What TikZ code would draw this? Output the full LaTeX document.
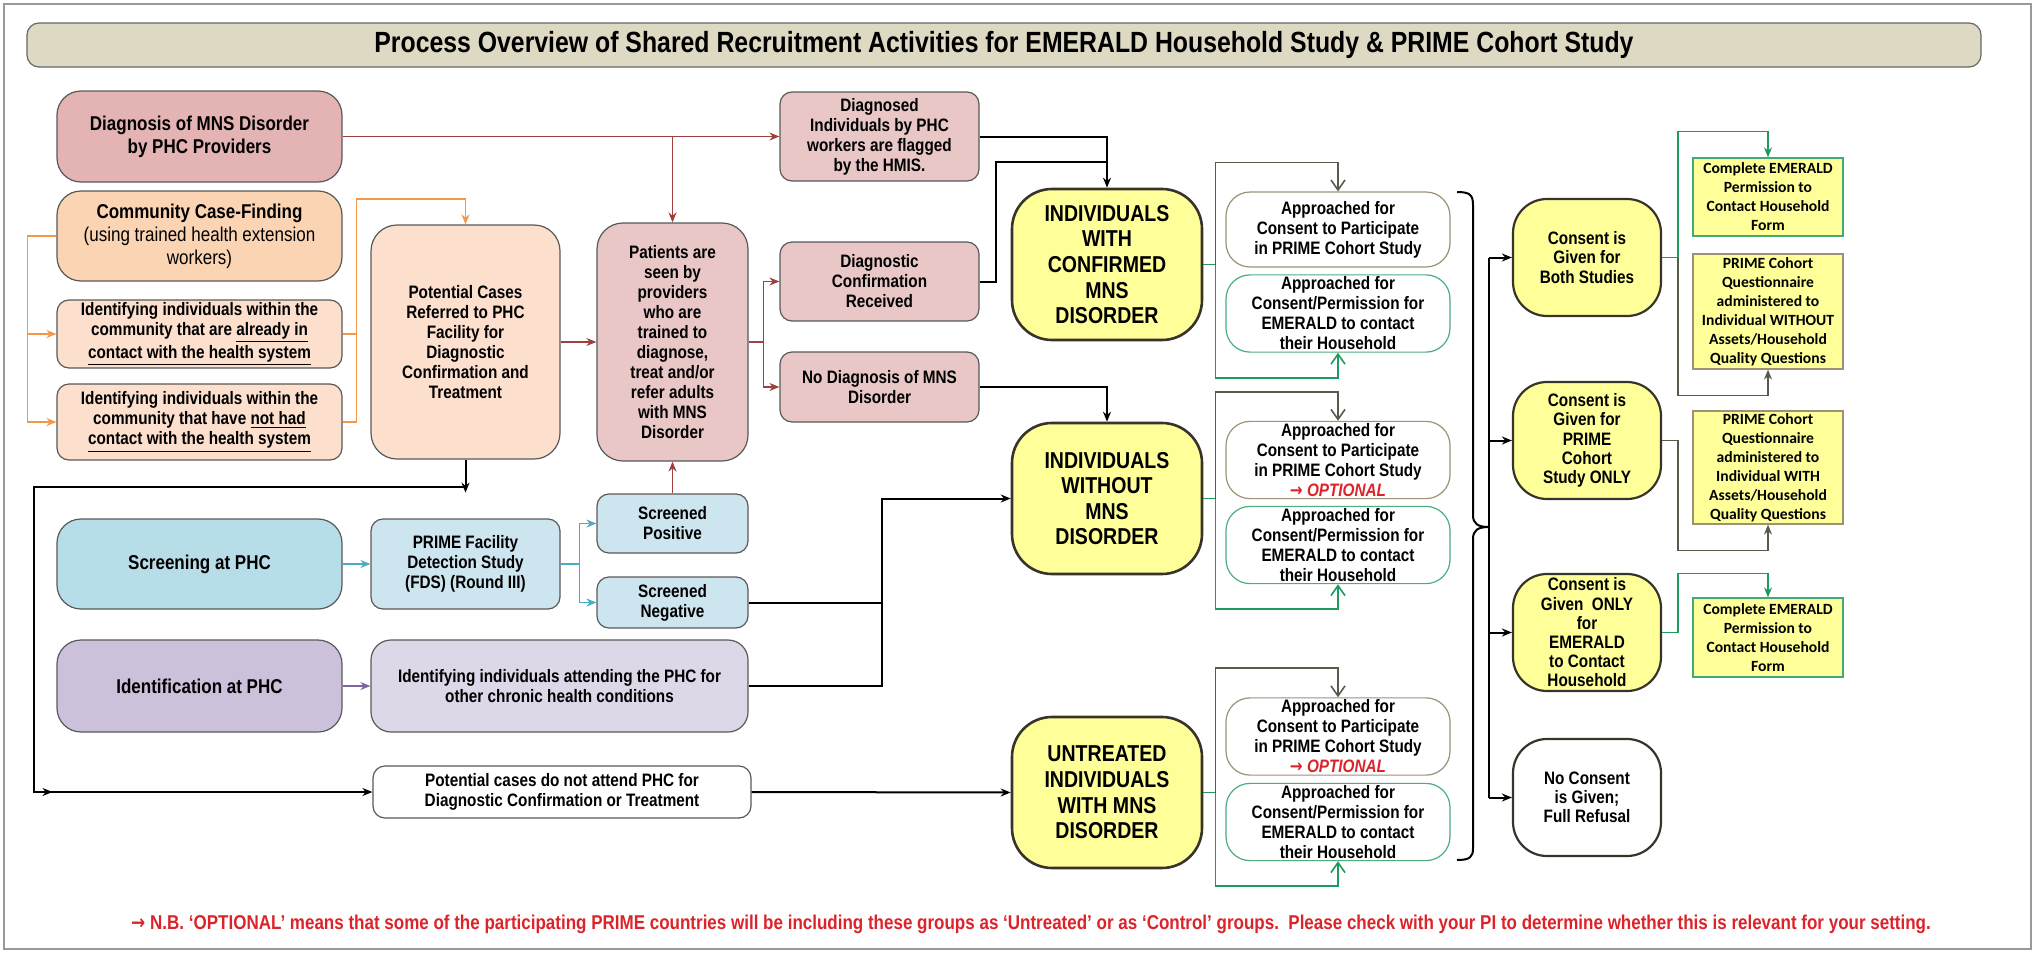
\documentclass[tikz,border=0pt]{standalone}
\usepackage{fontspec}
\setmainfont[FakeStretch=0.85]{Liberation Sans}
\newfontfamily\calfont{Carlito}
\newfontfamily\arrowfont[FakeStretch=0.85]{DejaVu Sans}
\usetikzlibrary{arrows.meta,calc}

\definecolor{titlefill}{HTML}{DDD9C3}
\definecolor{diagfill}{HTML}{E3B4B3}
\definecolor{pinkfill}{HTML}{E8C7C6}
\definecolor{peachfill}{HTML}{FBD4B4}
\definecolor{lpeachfill}{HTML}{FCDFCD}
\definecolor{bluefill}{HTML}{B7DDE8}
\definecolor{lbluefill}{HTML}{CCE5EE}
\definecolor{purplefill}{HTML}{CCC1DA}
\definecolor{lpurplefill}{HTML}{DDD7E8}
\definecolor{yellowfill}{HTML}{FFFF99}
\definecolor{orangeline}{HTML}{F79646}
\definecolor{redline}{HTML}{A0403D}
\definecolor{blueline}{HTML}{4BACC6}
\definecolor{purpleline}{HTML}{8064A2}
\definecolor{greenline}{HTML}{1F9A5F}
\definecolor{grayline}{HTML}{5A5A4C}
\definecolor{olivebd}{HTML}{9C9377}
\definecolor{notered}{HTML}{DC2329}

\newcommand{\optarrow}{{\arrowfont\bfseries →}}

\tikzset{
  base/.style={draw=black!65, line width=0.6pt, align=center, inner sep=1pt,
    font=\fontsize{9}{10}\selectfont\bfseries},
  bigbox/.style={base, rounded corners=12pt, minimum width=142.5pt,
    font=\fontsize{10}{11.5}\selectfont\bfseries},
  smallbox/.style={base, rounded corners=6pt},
  tallbox/.style={base, rounded corners=13pt, minimum width=94.5pt},
  yellowbig/.style={base, draw=black!80!olive, line width=1.3pt, fill=yellowfill,
    rounded corners=20pt, minimum width=95pt, minimum height=75.5pt,
    font=\fontsize{11.5}{12.8}\selectfont\bfseries},
  approach/.style={base, fill=white, rounded corners=12pt, minimum width=112pt},
  consentbox/.style={base, draw=black!80!olive, line width=1.1pt, rounded corners=17pt,
    minimum width=74pt, minimum height=58.5pt, font=\fontsize{9}{9.6}\selectfont\bfseries},
  formbox/.style={base, fill=yellowfill, minimum width=75pt, inner sep=0pt,
    font=\fontsize{7.8}{9.5}\selectfont\calfont\bfseries},
  blk/.style={draw=black, line width=1pt},
  conn/.style={line width=0.8pt}
}

\begin{document}
\begin{tikzpicture}[x=0.5pt,y=-0.5pt, >={Stealth[length=5pt,width=4pt]}]
    \useasboundingbox (0,0) rectangle (2035,953);
    % Cadre et titre
    \draw[black!40, line width=0.8pt] (4,4) rectangle (2031,949);
    \node[base, fill=titlefill, draw=black!60, rounded corners=6pt, minimum width=977pt,
      minimum height=22pt, font=\fontsize{14.6}{16}\selectfont\bfseries] (title) at (1004,45)
      {Process Overview of Shared Recruitment Activities for EMERALD Household Study \& PRIME Cohort Study};

    % Colonne de gauche
    \node[bigbox, fill=diagfill, minimum height=45.5pt] (diag) at (199.5,136.5)
      {Diagnosis of MNS Disorder\\by PHC Providers};
    \node[bigbox, fill=peachfill, minimum height=45pt] (community) at (199.5,236)
      {Community Case-Finding\\{\mdseries(using trained health extension}\\{\mdseries workers)}};
    \node[smallbox, fill=lpeachfill, minimum width=142.5pt, minimum height=34pt] (already) at (199.5,334)
      {Identifying individuals within the\\community that are \underline{already in}\\\underline{contact with the health system}};
    \node[smallbox, fill=lpeachfill, minimum width=142.5pt, minimum height=38pt] (nothad) at (199.5,422)
      {Identifying individuals within the\\community that have \underline{not had}\\\underline{contact with the health system}};
    \node[bigbox, fill=bluefill, minimum height=45pt] (screening) at (199.5,564) {Screening at PHC};
    \node[bigbox, fill=purplefill, minimum height=46pt] (identification) at (199.5,686) {Identification at PHC};

    % Deuxieme colonne
    \node[tallbox, fill=lpeachfill, minimum height=117pt] (potential) at (465.5,342)
      {Potential Cases\\Referred to PHC\\Facility for\\Diagnostic\\Confirmation and\\Treatment};
    \node[tallbox, fill=pinkfill, minimum width=75.5pt, minimum height=119pt] (patients) at (672.5,342)
      {Patients are\\seen by\\providers\\who are\\trained to\\diagnose,\\treat and/or\\refer adults\\with MNS\\Disorder};
    \node[smallbox, fill=lbluefill, minimum width=94.5pt, minimum height=45pt] (fds) at (465.5,564)
      {PRIME Facility\\Detection Study\\(FDS) (Round III)};
    \node[smallbox, fill=lbluefill, minimum width=75.5pt, minimum height=29.5pt] (positive) at (672.5,523.5)
      {Screened\\Positive};
    \node[smallbox, fill=lbluefill, minimum width=75.5pt, minimum height=25.5pt] (negative) at (672.5,602.5)
      {Screened\\Negative};
    \node[smallbox, fill=lpurplefill, rounded corners=10pt, minimum width=188.5pt, minimum height=46pt] (attending) at (559.5,686)
      {Identifying individuals attending the PHC for\\other chronic health conditions};
    \node[smallbox, fill=white, minimum width=189pt, minimum height=26pt] (notattend) at (562,792)
      {Potential cases do not attend PHC for\\Diagnostic Confirmation or Treatment};

    % Diagnostic
    \node[smallbox, fill=pinkfill, minimum width=99.5pt, minimum height=44.5pt] (diagnosed) at (879.5,136.5)
      {Diagnosed\\Individuals by PHC\\workers are flagged\\by the HMIS.};
    \node[smallbox, fill=pinkfill, minimum width=99.5pt, minimum height=39.5pt] (confirmation) at (879.5,281.5)
      {Diagnostic\\Confirmation\\Received};
    \node[smallbox, fill=pinkfill, minimum width=99.5pt, minimum height=35pt] (nodiag) at (879.5,387)
      {No Diagnosis of MNS\\Disorder};

    % Groupes
    \node[yellowbig] (confirmed) at (1107,264.5) {INDIVIDUALS\\WITH\\CONFIRMED\\MNS\\DISORDER};
    \node[yellowbig] (without) at (1107,498.5) {INDIVIDUALS\\WITHOUT\\MNS\\DISORDER};
    \node[yellowbig] (untreated) at (1107,792.5) {UNTREATED\\INDIVIDUALS\\WITH MNS\\DISORDER};

    % Approches
    \node[approach, draw=olivebd, minimum height=37.5pt] (a1) at (1338,229.5)
      {Approached for\\Consent to Participate\\in PRIME Cohort Study};
    \node[approach, draw=greenline!80, minimum height=38.5pt] (b1) at (1338,313.5)
      {Approached for\\Consent/Permission for\\EMERALD to contact\\their Household};
    \node[approach, draw=olivebd, minimum height=37pt] (a2) at (1338,460)
      {Approached for\\Consent to Participate\\in PRIME Cohort Study\\{\color{notered}\optarrow\ \itshape OPTIONAL}};
    \node[approach, draw=greenline!80, minimum height=38pt] (b2) at (1338,545)
      {Approached for\\Consent/Permission for\\EMERALD to contact\\their Household};
    \node[approach, draw=olivebd, minimum height=38.5pt] (a3) at (1338,736.5)
      {Approached for\\Consent to Participate\\in PRIME Cohort Study\\{\color{notered}\optarrow\ \itshape OPTIONAL}};
    \node[approach, draw=greenline!80, minimum height=38pt] (b3) at (1338,822)
      {Approached for\\Consent/Permission for\\EMERALD to contact\\their Household};

    % Consentement
    \node[consentbox, fill=yellowfill] (both) at (1587,257.5) {Consent is\\Given for\\Both Studies};
    \node[consentbox, fill=yellowfill] (prime) at (1587,440.5) {Consent is\\Given for\\PRIME\\Cohort\\Study ONLY};
    \node[consentbox, fill=yellowfill] (emerald) at (1587,632.5)
      {Consent is\\Given\ \ ONLY\\for\\EMERALD\\to Contact\\Household};
    \node[consentbox, fill=white] (noconsent) at (1587,797.5) {No Consent\\is Given;\\Full Refusal};

    % Formulaires
    \node[formbox, draw=greenline!85, minimum height=39pt] (form1) at (1768,197)
      {Complete EMERALD\\Permission to\\Contact Household\\Form};
    \node[formbox, draw=olivebd, minimum height=57.5pt] (qwithout) at (1768,311.5)
      {PRIME Cohort\\Questionnaire\\administered to\\Individual WITHOUT\\Assets/Household\\Quality Questions};
    \node[formbox, draw=olivebd, minimum height=56.5pt] (qwith) at (1768,467.5)
      {PRIME Cohort\\Questionnaire\\administered to\\Individual WITH\\Assets/Household\\Quality Questions};
    \node[formbox, draw=greenline!85, minimum height=39.5pt] (form2) at (1768,637.5)
      {Complete EMERALD\\Permission to\\Contact Household\\Form};

    % Fleches orange
    \draw[conn, orangeline, ->] (community.west) -- ++(-29,0) |- (already.west);
    \draw[conn, orangeline, ->] (community.west) -- ++(-29,0) |- (nothad.west);
    \draw[conn, orangeline] (already.east) -- ++(14,0);
    \draw[conn, orangeline, ->] (nothad.east) -- ++(14,0) -- ++(0,-223) -| (potential.north);

    % Fleches rouges
    \draw[conn, redline, ->] (diag.east) -- (diagnosed.west);
    \draw[conn, redline, ->] (diag.east -| patients.north) -- (patients.north);
    \draw[conn, redline, ->] (potential.east) -- (patients.west);
    \draw[conn, redline] (patients.east) -- ++(15,0) coordinate (rsplit);
    \draw[conn, redline, ->] (rsplit) |- (confirmation.west);
    \draw[conn, redline, ->] (rsplit) |- (nodiag.west);
    \draw[conn, redline, ->] (positive.north) -- (patients.south);

    % Fleches bleues et violette
    \draw[conn, blueline, ->] (screening.east) -- (fds.west);
    \draw[conn, blueline] (fds.east) -- ++(19,0) coordinate (bsplit);
    \draw[conn, blueline, ->] (bsplit) |- (positive.west);
    \draw[conn, blueline, ->] (bsplit) |- (negative.west);
    \draw[conn, purpleline, ->] (identification.east) -- (attending.west);

    % Fleches noires
    \draw[blk, ->] (diagnosed.east) -| (confirmed.north);
    \draw[blk] (confirmation.east) -- ++(16,0) |- ($(confirmed.north)+(0,-26)$);
    \draw[blk, ->] (nodiag.east) -| (without.north);
    \draw[blk, ->] (negative.east) -- ++(133,0) coordinate (nsplit) |- (without.west);
    \draw[blk] (attending.east) -| (nsplit);
    \draw[blk, ->] (notattend.east) -- (untreated.west);
    \draw[blk, ->] (potential.south) -- ++(0,33);
    \coordinate (lowturn) at (33.5,792);
    \draw[blk, ->] ($(potential.south)+(0,27)$) -| (lowturn) -- (notattend.west);
    \draw[blk, ->] (lowturn) -- ++(19,0);

    % Vers les approches
    \foreach \g/\a/\b in {confirmed/a1/b1, without/a2/b2, untreated/a3/b3} {
        \draw[conn, greenline] (\g.east) -- ++(12,0) coordinate (gj);
        \draw[conn, grayline, -{Straight Barb[length=5pt,width=7pt]}] (gj) |- ($(\a.north)+(0,-29)$) -- (\a.north);
        \draw[conn, greenline, -{Straight Barb[length=5pt,width=7pt]}] (gj) |- ($(\b.south)+(0,25)$) -- (\b.south);
    }

    % Accolade
    \draw[blk] (1457,192) .. controls (1470,192) and (1473,195) .. (1473,205) -- (1473,515)
      .. controls (1473,524) and (1478,527) .. (1489,527)
      .. controls (1478,527) and (1473,530) .. (1473,539) -- (1473,848)
      .. controls (1473,857) and (1470,860) .. (1457,860);
    \coordinate (csplit) at (1489,527);
    \draw[blk] (both.west -| csplit) -- (noconsent.west -| csplit);
    \foreach \c in {both, prime, emerald, noconsent} {
        \draw[blk, ->] (\c.west -| csplit) -- (\c.west);}

    % Vers les formulaires
    \draw[conn, greenline, ->] (both.east) -- ++(16,0) coordinate (fj) |- ($(form1.north)+(0,-26)$) -- (form1.north);
    \draw[conn, grayline, ->] (fj) |- ($(qwithout.south)+(0,26)$) -- (qwithout.south);
    \draw[conn, grayline, ->] (prime.east) -- ++(16,0) |- ($(qwith.south)+(0,26)$) -- (qwith.south);
    \draw[conn, greenline, ->] (emerald.east) -- ++(16,0) |- ($(form2.north)+(0,-24)$) -- (form2.north);

    % Note
    \node[text=notered, font=\fontsize{10}{11}\selectfont\bfseries] (note) at (1031,924)
      {\optarrow\ N.B. ‘OPTIONAL’ means that some of the participating PRIME countries will be including these groups as ‘Untreated’ or as ‘Control’ groups.\ \ Please check with your PI to determine whether this is relevant for your setting.};
\end{tikzpicture}
\end{document}
